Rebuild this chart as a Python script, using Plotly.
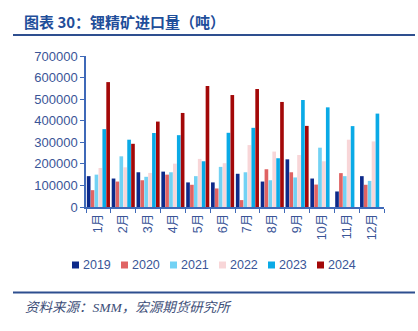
import plotly.graph_objects as go

months = ["1月", "2月", "3月", "4月", "5月", "6月", "7月", "8月", "9月", "10月", "11月", "12月"]
years = ["2019", "2020", "2021", "2022", "2023", "2024"]

v2019 = [143000, 132000, 161000, 164000, 114000, 114000, 154000, 118000, 221000, 132000, 72000, 143000]
v2020 = [78000, 118000, 124000, 150000, 103000, 86000, 32000, 175000, 161000, 104000, 157000, 103000]
v2021 = [150000, 235000, 140000, 161000, 143000, 186000, 161000, 124000, 137000, 275000, 143000, 121000]
v2022 = [181000, 184000, 158000, 201000, 223000, 203000, 287000, 257000, 241000, 212000, 312000, 304000]
v2023 = [361000, 312000, 343000, 333000, 212000, 344000, 367000, 226000, 496000, 462000, 375000, 433000]
v2024 = [579000, 293000, 396000, 436000, 561000, 519000, 547000, 487000, 376000, None, None, None]

series = [v2019, v2020, v2021, v2022, v2023, v2024]
colors = ["#0d2a8a", "#e06363", "#72d2f4", "#f8d6d8", "#0aaae6", "#a30808"]

axis_blue = "#3f69b8"
text_blue = "#3a5597"

# plot area in pixels; helpers convert pixel positions to paper coordinates
PLOT_LEFT, PLOT_RIGHT = 86, 384
PLOT_TOP, PLOT_BOTTOM = 56, 207


def px(col):
    return (col - PLOT_LEFT) / (PLOT_RIGHT - PLOT_LEFT)


def py(row):
    return (PLOT_BOTTOM - row) / (PLOT_BOTTOM - PLOT_TOP)


fig = go.Figure()
for name, vals, col in zip(years, series, colors):
    fig.add_trace(go.Bar(name=name, x=months, y=vals, showlegend=False,
                         marker=dict(color=col, line=dict(width=0))))

fig.update_layout(
    width=418, height=331,
    margin=dict(l=PLOT_LEFT, r=418 - PLOT_RIGHT, t=PLOT_TOP, b=331 - PLOT_BOTTOM),
    paper_bgcolor="white", plot_bgcolor="white",
    barmode="group", bargap=0.06, bargroupgap=0.06,
    font=dict(family="Liberation Sans, Arial, sans-serif", color=text_blue),
    showlegend=False,
)

fig.update_yaxes(
    range=[0, 700000], dtick=100000, tickformat="d",
    showgrid=False, zeroline=False,
    showline=True, linecolor=axis_blue, linewidth=1.5,
    ticks="outside", ticklen=4, tickcolor=axis_blue,
    tickfont=dict(size=13, color=text_blue),
)
fig.update_xaxes(
    showgrid=False, showline=True, linecolor=axis_blue, linewidth=1.5,
    ticks="outside", ticklen=4, tickcolor=axis_blue, tickson="boundaries",
    tickangle=-90, tickfont=dict(size=12.5, color=text_blue,
                                  family="Liberation Sans, Noto Sans CJK SC, sans-serif"),
)

# compact legend row: colored square followed by the year
LEG_ROW, LEG_X0, LEG_STEP = 265, 72, 49
for i, (name, col) in enumerate(zip(years, colors)):
    left = LEG_X0 + i * LEG_STEP
    fig.add_shape(type="rect", xref="paper", yref="paper",
                  x0=px(left), x1=px(left + 7), y0=py(LEG_ROW + 3.5), y1=py(LEG_ROW - 3.5),
                  fillcolor=col, line=dict(width=0))
    fig.add_annotation(text=name, xref="paper", yref="paper",
                       x=px(left + 9), y=py(LEG_ROW), xanchor="left", yanchor="middle",
                       showarrow=False, font=dict(size=12.5, color=text_blue))

# header title and rule
fig.add_annotation(
    text="<b>图表 30：锂精矿进口量（吨）</b>", xref="paper", yref="paper",
    x=px(22), y=py(22), xanchor="left", yanchor="middle", showarrow=False,
    font=dict(family="Noto Sans CJK SC", size=15, color="#1f4e9a"),
)
fig.add_shape(type="line", xref="paper", yref="paper",
              x0=px(13), x1=px(415), y0=py(35), y1=py(35),
              line=dict(color="#2e4f8f", width=2))

# footer rule and source note
fig.add_shape(type="line", xref="paper", yref="paper",
              x0=px(13), x1=px(415), y0=py(292.5), y1=py(292.5),
              line=dict(color="#2e4f8f", width=2))
fig.add_annotation(
    text="<i>资料来源：SMM，宏源期货研究所</i>", xref="paper", yref="paper",
    x=px(23), y=py(307), xanchor="left", yanchor="middle", showarrow=False,
    font=dict(family="Liberation Serif, Noto Sans CJK SC", size=13.5, color="#3d4e78"),
)

fig.write_html("out.html")
